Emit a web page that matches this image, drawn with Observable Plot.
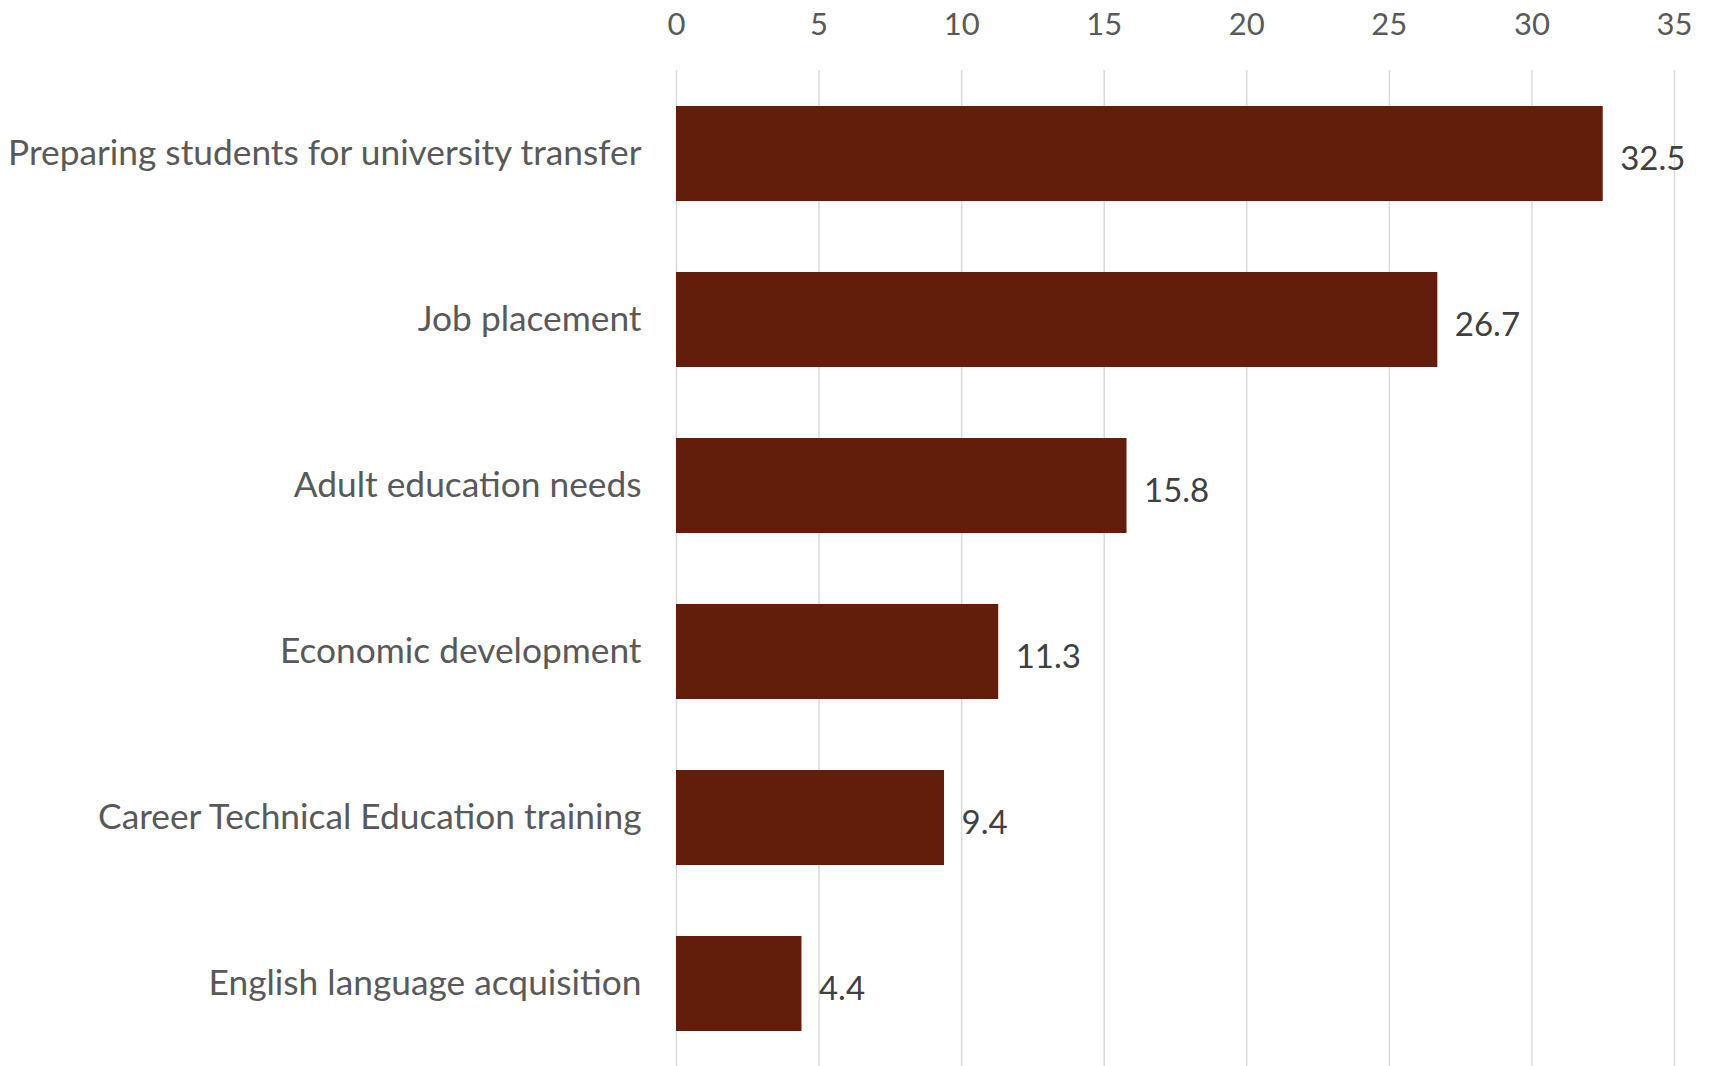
<!DOCTYPE html>
<html>
<head>
<meta charset="utf-8">
<script src="https://cdn.jsdelivr.net/npm/d3@7"></script>
<script src="https://cdn.jsdelivr.net/npm/@observablehq/plot@0.6"></script>
<style>
  html, body { margin: 0; padding: 0; background: #fff; }
  #chart svg { display: block; }
</style>
</head>
<body>
<div id="chart"></div>
<script>
const categories = [
  "Preparing students for university transfer",
  "Job placement",
  "Adult education needs",
  "Economic development",
  "Career Technical Education training",
  "English language acquisition"
];
const values = [32.5, 26.7, 15.8, 11.3, 9.4, 4.4];
const xTicks = [0, 5, 10, 15, 20, 25, 30, 35];

const data = categories.map((c, i) => ({category: c, value: values[i]}));
const font = "Lato, 'Open Sans', sans-serif";

const chart = Plot.plot({
  width: 1709,
  height: 1066,
  marginLeft: 676,
  marginRight: 35,
  marginTop: 70,
  marginBottom: 0,
  style: {fontFamily: font, background: "#fff"},
  x: {domain: [0, 35], axis: null},
  y: {domain: categories, axis: null, paddingInner: 0.43, paddingOuter: 0.215},
  marks: [
    Plot.gridX(xTicks, {x: d => d, stroke: "#d9d9d9", strokeOpacity: 1, strokeWidth: 1.5}),
    Plot.barX(data, {x: "value", y: "category", fill: "#621d0b"}),
    Plot.text(xTicks, {x: d => d, frameAnchor: "top", dy: -45, text: d => String(d), fill: "#595959", fontSize: 31, lineAnchor: "middle"}),
    Plot.text(data, {x: 0, y: "category", text: "category", dx: -35, textAnchor: "end", fill: "#595959", fontSize: 35.3, lineAnchor: "middle"}),
    Plot.text(data, {x: "value", y: "category", text: d => d.value.toFixed(1), dx: 17, dy: 5, textAnchor: "start", fill: "#404040", fontSize: 33, lineAnchor: "middle"})
  ]
});
document.getElementById("chart").appendChild(chart);
</script>
</body>
</html>
